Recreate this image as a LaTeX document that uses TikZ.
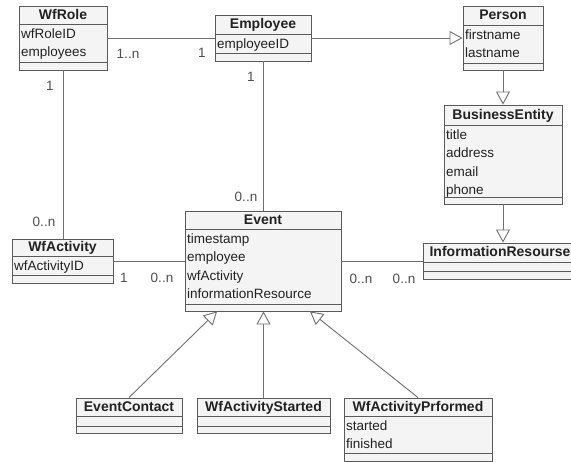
\documentclass[tikz,border=0pt]{standalone}
\usepackage{fontspec}
\setmainfont{Liberation Sans}
\usetikzlibrary{arrows.meta, fit}
\definecolor{linegray}{HTML}{707070}
\definecolor{boxborder}{HTML}{5A5A5A}
\definecolor{boxgray}{HTML}{F4F4F4}
\definecolor{txtgray}{HTML}{222222}

\newcommand{\umlclass}[9]{%
	\node[classbox, fit={(#2,#3) (#4,#7)}] (#1) {};
	\draw[classsep] (#2,#5) -- (#4,#5) (#2,#6) -- (#4,#6);
	\node[classname] (#1-name) at ({(#2+#4)/2},{(#3+#5)/2}) {#8};
	\node[classattr] (#1-attr) at (#2,#5) {\strut #9};
}

\begin{document}
\begin{tikzpicture}[x=1pt, y=-1pt,
	classbox/.style={draw=boxborder, fill=boxgray, inner sep=0pt, line width=0.9pt},
	classsep/.style={draw=boxborder, line width=0.9pt},
	classname/.style={font=\fontsize{14}{16}\selectfont\bfseries, text=txtgray, text height=12pt, text depth=3pt, inner sep=0pt},
	classattr/.style={anchor=north west, align=left, font=\fontsize{13.5}{18.5}\selectfont, text=txtgray, inner xsep=2pt, inner ysep=1pt},
	mult/.style={font=\fontsize{13.5}{16}\selectfont, text=txtgray!80},
	assoc/.style={draw=linegray, line width=0.9pt},
	gen/.style={assoc, -{Triangle[open, length=13pt, width=14pt]}}]
	\useasboundingbox (0,0) rectangle (571,462);
	\fill[white] (0,0) rectangle (571,462);
	\umlclass{wfrole}{19}{6}{107}{24}{62}{70}{WfRole}{wfRoleID\\employees}
	\umlclass{employee}{215}{15}{311}{34}{53}{61}{Employee}{employeeID}
	\umlclass{person}{463}{6}{543}{25}{63}{70}{Person}{firstname\\lastname}
	\umlclass{business}{444}{105}{562}{125}{197}{204}{BusinessEntity}{title\\address\\email\\phone}
	\umlclass{inforesource}{423}{243}{577}{262}{271}{279}{InformationResourse}{}
	\umlclass{event}{185}{211}{341}{229}{304}{311}{Event}{timestamp\\employee\\wfActivity\\informationResource}
	\umlclass{wfactivity}{12}{239}{113}{256}{275}{283}{WfActivity}{wfActivityID}
	\umlclass{eventcontact}{76}{398}{182}{416}{426}{433}{EventContact}{}
	\umlclass{wfstarted}{197}{398}{330}{416}{426}{433}{WfActivityStarted}{}
	\umlclass{wfperformed}{344}{398}{492}{416}{453}{461}{WfActivityPrformed}{started\\finished}
	\node[mult] (m1) at (128,54) {1..n};
	\node[mult] (m2) at (202,53) {1};
	\node[mult] (m3) at (50,86) {1};
	\node[mult] (m4) at (251,77) {1};
	\node[mult] (m5) at (246,197) {0..n};
	\node[mult] (m6) at (44,222) {0..n};
	\node[mult] (m7) at (124,278) {1};
	\node[mult] (m8) at (162,278) {0..n};
	\node[mult] (m9) at (361,279) {0..n};
	\node[mult] (m10) at (404,279) {0..n};
	\draw[assoc] (wfrole) to (employee);
	\draw[gen] (employee) to (person);
	\draw[gen] (person) to (business);
	\draw[gen] (business.south) to (business.south |- inforesource.north);
	\draw[assoc] (wfrole.south) to (wfrole.south |- wfactivity.north);
	\draw[assoc] (employee) to (event);
	\draw[assoc] (wfactivity) to (event);
	\draw[assoc] (event) to (inforesource);
	\draw[gen] (eventcontact.north) to ([xshift=-46pt]event.south);
	\draw[gen] (wfstarted.north) to (wfstarted.north |- event.south);
	\draw[gen] (wfperformed.north) to ([xshift=47pt]event.south);
\end{tikzpicture}
\end{document}
